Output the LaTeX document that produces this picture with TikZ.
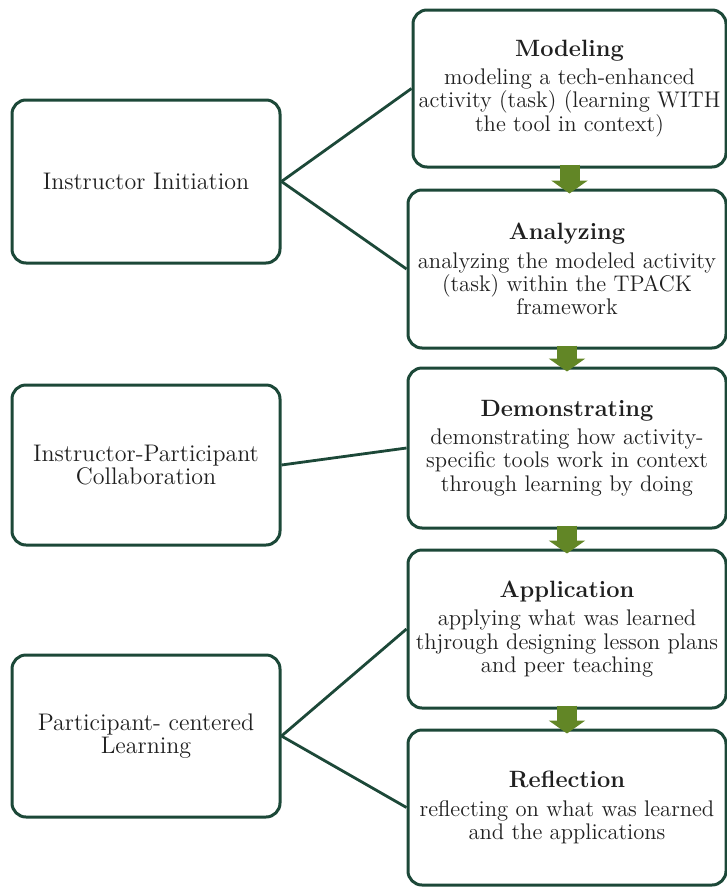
\documentclass[tikz,border=0pt]{standalone}
\usetikzlibrary{arrows.meta}
\definecolor{boxline}{RGB}{28,72,56}
\definecolor{stepgreen}{RGB}{98,134,38}
\definecolor{ink}{RGB}{32,32,32}
\begin{document}
\begin{tikzpicture}[x=0.5pt,y=-0.5pt,
  basebox/.style={draw=boxline, line width=1.5pt, rounded corners=7pt,
    fill=white, align=center, inner sep=0pt, text=ink},
  rolebox/.style={basebox, minimum width=134pt,
    font=\fontsize{12}{11.6}\selectfont},
  stagebox/.style={basebox, minimum width=159pt,
    font=\fontsize{11.3}{11.6}\selectfont},
  link/.style={draw=boxline, line width=1.4pt},
  steparrow/.style={draw=stepgreen, line width=10pt,
    -{Triangle[width=18pt,length=6.5pt]}},
]
\useasboundingbox (0,0) rectangle (727,889);
\newcommand{\stagetitle}[1]{{\fontsize{11.8}{11.6}\selectfont\bfseries #1}\\[2.5pt]}

% stages of the sequence (right column)
\node[stagebox, minimum width=156.5pt, minimum height=78.5pt] (model) at (569.5,88.5)
  {\stagetitle{Modeling}modeling a tech-enhanced\\activity (task) (learning WITH\\the tool in context)};
\node[stagebox, minimum height=79pt] (analyze) at (567,269)
  {\stagetitle{Analyzing}analyzing the modeled activity\\(task) within the TPACK\\framework};
\node[stagebox, minimum height=80pt] (demo) at (567,448)
  {\stagetitle{Demonstrating}demonstrating how activity-\\specific tools work in context\\through learning by doing};
\node[stagebox, minimum height=79pt] (apply) at (567,629)
  {\stagetitle{Application}applying what was learned\\thjrough designing lesson plans\\and peer teaching};
\node[stagebox, minimum height=77.5pt] (reflect) at (567,807.5)
  {\stagetitle{Reflection}reflecting on what was learned\\and the applications};

% roles (left column)
\node[rolebox, minimum height=81.5pt] (init) at (146,181.5) {Instructor Initiation};
\node[rolebox, minimum height=80pt] (collab) at (146,465) {Instructor-Participant\\Collaboration};
\node[rolebox, minimum height=81pt] (learn) at (146,736) {Participant- centered\\Learning};

% role-to-stage links
\draw[link] (init.east) -- (model.west);
\draw[link] (init.east) -- (analyze.west);
\draw[link] (collab.east) -- (demo.west);
\draw[link] (learn.east) -- (apply.west);
\draw[link] (learn.east) -- (reflect.west);

% flow arrows between stages
\draw[steparrow] ([yshift=2pt]model.south) -- ([yshift=-2.5pt]model.south |- analyze.north);
\draw[steparrow] ([yshift=2pt]analyze.south) -- ([yshift=-2.5pt]analyze.south |- demo.north);
\draw[steparrow] ([yshift=2pt]demo.south) -- ([yshift=-2.5pt]demo.south |- apply.north);
\draw[steparrow] ([yshift=2pt]apply.south) -- ([yshift=-2.5pt]apply.south |- reflect.north);
\end{tikzpicture}
\end{document}
